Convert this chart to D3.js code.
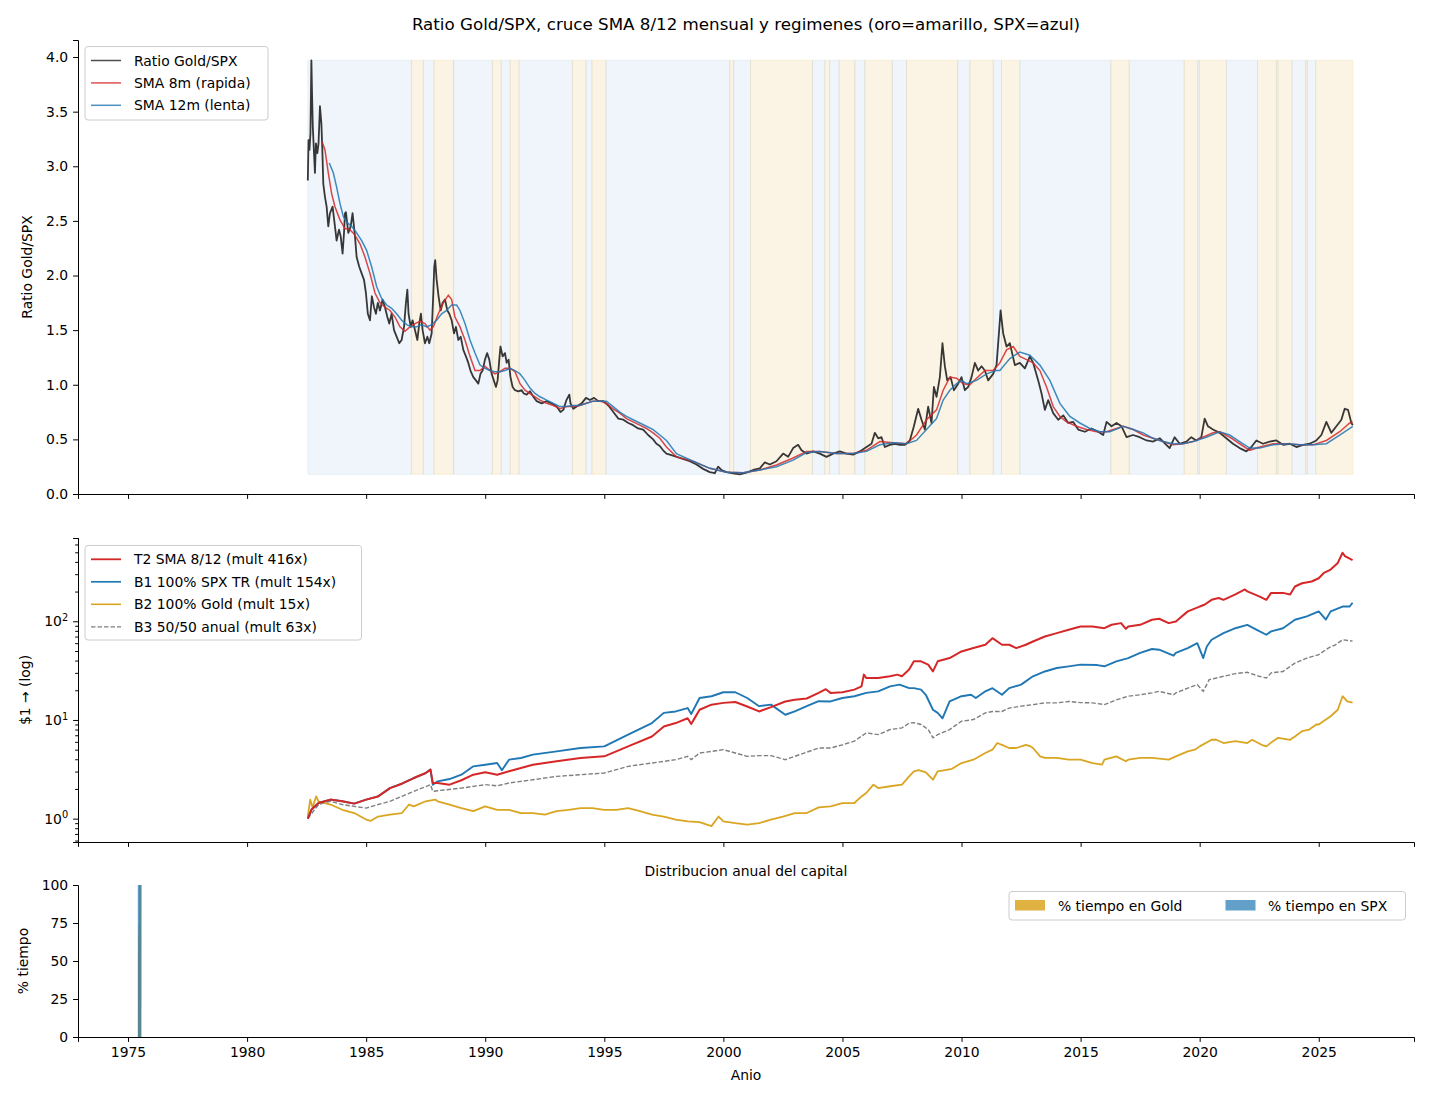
<!DOCTYPE html>
<html>
<head>
<meta charset="utf-8">
<script src="https://d3js.org/d3.v7.min.js"></script>
<style>
body { margin: 0; background: #fff; }
text { font-family: "DejaVu Sans", sans-serif; }
</style>
</head>
<body>
<div id="chart"></div>
<script>
// ---- data ----
// ratio Gold/SPX  [year, ratio]
const ratioGoldSpx = [
  [1982.55,2.87],[1982.58,3.24],[1982.62,3.15],[1982.66,3.30],[1982.70,3.97],[1982.73,3.64],[1982.76,3.36],
  [1982.81,3.12],[1982.85,2.94],[1982.89,3.21],[1982.95,3.12],[1983.00,3.21],[1983.06,3.55],[1983.12,3.39],
  [1983.16,3.15],[1983.20,2.84],[1983.27,2.72],[1983.34,2.63],[1983.41,2.45],[1983.48,2.57],[1983.59,2.63],
  [1983.69,2.45],[1983.76,2.32],[1983.86,2.42],[1983.93,2.36],[1984.01,2.20],[1984.07,2.39],[1984.11,2.57],
  [1984.15,2.58],[1984.25,2.39],[1984.35,2.45],[1984.43,2.57],[1984.53,2.36],[1984.60,2.17],[1984.71,2.08],
  [1984.81,2.02],[1984.91,1.96],[1984.99,1.84],[1985.07,1.65],[1985.16,1.59],[1985.24,1.81],[1985.33,1.71],
  [1985.41,1.65],[1985.49,1.75],[1985.58,1.68],[1985.69,1.78],[1985.79,1.71],[1985.89,1.62],[1985.97,1.56],
  [1986.07,1.65],[1986.17,1.50],[1986.28,1.44],[1986.39,1.38],[1986.49,1.41],[1986.59,1.53],[1986.67,1.75],
  [1986.73,1.87],[1986.78,1.65],[1986.87,1.53],[1986.95,1.59],[1987.05,1.50],[1987.15,1.41],[1987.23,1.56],
  [1987.30,1.65],[1987.37,1.50],[1987.47,1.38],[1987.57,1.44],[1987.65,1.38],[1987.75,1.47],[1987.82,1.84],
  [1987.86,2.08],[1987.90,2.14],[1987.96,1.96],[1988.04,1.81],[1988.13,1.68],[1988.21,1.75],[1988.31,1.78],
  [1988.41,1.68],[1988.49,1.65],[1988.59,1.59],[1988.69,1.47],[1988.77,1.53],[1988.87,1.41],[1988.97,1.44],
  [1989.08,1.32],[1989.19,1.26],[1989.29,1.20],[1989.38,1.13],[1989.50,1.07],[1989.61,1.04],[1989.71,1.01],
  [1989.80,1.10],[1989.89,1.13],[1989.99,1.23],[1990.08,1.29],[1990.17,1.23],[1990.27,1.10],[1990.36,1.04],
  [1990.45,0.98],[1990.52,1.04],[1990.59,1.23],[1990.64,1.35],[1990.73,1.26],[1990.83,1.29],[1990.90,1.20],
  [1990.98,1.23],[1991.06,1.07],[1991.15,0.98],[1991.25,0.95],[1991.39,0.94],[1991.53,0.95],[1991.62,0.92],
  [1991.74,0.91],[1991.88,0.94],[1992.02,0.89],[1992.16,0.85],[1992.37,0.83],[1992.58,0.85],[1992.79,0.83],
  [1993.00,0.80],[1993.16,0.75],[1993.28,0.77],[1993.41,0.86],[1993.53,0.91],[1993.58,0.83],[1993.70,0.78],
  [1993.84,0.80],[1994.05,0.83],[1994.23,0.88],[1994.40,0.86],[1994.57,0.88],[1994.75,0.85],[1994.96,0.85],
  [1995.17,0.81],[1995.38,0.75],[1995.59,0.69],[1995.80,0.68],[1996.01,0.65],[1996.21,0.63],[1996.42,0.60],
  [1996.63,0.59],[1996.84,0.54],[1997.05,0.50],[1997.19,0.46],[1997.33,0.44],[1997.47,0.40],[1997.61,0.37],
  [1997.75,0.36],[1998.17,0.33],[1998.59,0.30],[1998.87,0.27],[1999.15,0.23],[1999.43,0.20],[1999.64,0.19],
  [1999.78,0.25],[1999.92,0.22],[2000.13,0.20],[2000.41,0.19],[2000.69,0.18],[2000.97,0.195],[2001.25,0.22],
  [2001.53,0.235],[2001.74,0.29],[2001.95,0.27],[2002.23,0.30],[2002.51,0.37],[2002.72,0.34],[2002.93,0.42],
  [2003.14,0.45],[2003.28,0.40],[2003.49,0.37],[2003.77,0.39],[2004.05,0.37],[2004.33,0.34],[2004.61,0.37],
  [2004.89,0.39],[2005.17,0.37],[2005.45,0.36],[2005.73,0.39],[2006.01,0.43],[2006.22,0.46],[2006.36,0.56],
  [2006.50,0.51],[2006.64,0.52],[2006.78,0.43],[2006.99,0.45],[2007.20,0.46],[2007.41,0.45],[2007.62,0.45],
  [2007.83,0.49],[2008.00,0.62],[2008.18,0.78],[2008.32,0.68],[2008.46,0.59],[2008.60,0.80],[2008.74,0.65],
  [2008.84,0.98],[2008.95,0.89],[2009.09,1.07],[2009.20,1.38],[2009.30,1.17],[2009.40,1.04],[2009.54,1.07],
  [2009.68,0.95],[2009.86,1.01],[2010.00,1.07],[2010.14,0.95],[2010.28,0.98],[2010.42,1.07],[2010.56,1.20],
  [2010.70,1.13],[2010.84,1.17],[2010.98,1.13],[2011.12,1.04],[2011.33,1.10],[2011.47,1.18],[2011.58,1.50],
  [2011.64,1.68],[2011.75,1.47],[2011.89,1.35],[2012.03,1.38],[2012.24,1.18],[2012.45,1.20],[2012.66,1.15],
  [2012.87,1.26],[2013.01,1.20],[2013.22,1.04],[2013.36,0.92],[2013.50,0.77],[2013.64,0.86],[2013.85,0.74],
  [2014.06,0.68],[2014.27,0.72],[2014.48,0.65],[2014.69,0.66],[2014.90,0.59],[2015.18,0.57],[2015.46,0.60],
  [2015.74,0.57],[2015.95,0.54],[2016.09,0.66],[2016.30,0.62],[2016.51,0.65],[2016.72,0.62],[2016.93,0.52],
  [2017.20,0.54],[2017.48,0.52],[2017.77,0.49],[2018.05,0.48],[2018.33,0.51],[2018.60,0.45],[2018.74,0.42],
  [2018.95,0.52],[2019.16,0.46],[2019.44,0.48],[2019.65,0.52],[2019.86,0.49],[2020.07,0.52],[2020.21,0.69],
  [2020.35,0.62],[2020.56,0.59],[2020.84,0.56],[2021.12,0.51],[2021.40,0.46],[2021.68,0.42],[2021.96,0.39],
  [2022.17,0.43],[2022.38,0.49],[2022.66,0.46],[2022.94,0.48],[2023.22,0.49],[2023.50,0.45],[2023.78,0.46],
  [2024.06,0.43],[2024.34,0.45],[2024.62,0.46],[2024.90,0.49],[2025.11,0.54],[2025.32,0.66],[2025.53,0.56],
  [2025.74,0.62],[2025.95,0.68],[2026.09,0.78],[2026.23,0.77],[2026.37,0.65],[2026.43,0.63]
];

// SMA 8m (rapida)
const sma8 = [
  [1983.16,3.22],[1983.27,3.15],[1983.41,2.94],[1983.55,2.75],[1983.69,2.63],[1983.90,2.51],[1984.11,2.43],
  [1984.32,2.42],[1984.53,2.37],[1984.74,2.29],[1984.95,2.17],[1985.16,2.02],[1985.37,1.84],[1985.58,1.75],
  [1985.79,1.71],[1986.00,1.68],[1986.21,1.62],[1986.42,1.53],[1986.63,1.49],[1986.84,1.53],[1987.05,1.56],
  [1987.26,1.58],[1987.47,1.56],[1987.68,1.50],[1987.82,1.53],[1988.03,1.65],[1988.24,1.75],[1988.45,1.82],
  [1988.59,1.78],[1988.73,1.62],[1988.94,1.53],[1989.15,1.41],[1989.36,1.26],[1989.57,1.13],[1989.78,1.13],
  [1989.99,1.17],[1990.20,1.13],[1990.41,1.10],[1990.62,1.12],[1990.83,1.15],[1991.04,1.15],[1991.25,1.12],
  [1991.46,1.01],[1991.67,0.95],[1991.88,0.92],[1992.09,0.89],[1992.30,0.86],[1992.58,0.83],[1992.86,0.81],
  [1993.14,0.78],[1993.41,0.80],[1993.69,0.80],[1993.97,0.81],[1994.25,0.83],[1994.53,0.85],[1994.81,0.85],
  [1995.09,0.83],[1995.37,0.78],[1995.65,0.74],[1995.93,0.69],[1996.21,0.66],[1996.49,0.63],[1996.77,0.60],
  [1997.05,0.56],[1997.33,0.51],[1997.61,0.43],[1998.03,0.34],[1998.73,0.30],[1999.43,0.235],[2000.13,0.20],
  [2000.83,0.195],[2001.53,0.22],[2002.23,0.265],[2002.93,0.33],[2003.49,0.39],[2004.05,0.39],[2004.75,0.37],
  [2005.45,0.37],[2006.01,0.40],[2006.57,0.48],[2007.13,0.47],[2007.69,0.46],[2008.11,0.54],[2008.53,0.68],
  [2008.95,0.77],[2009.23,0.95],[2009.51,1.07],[2009.79,1.06],[2010.07,1.01],[2010.35,1.00],[2010.63,1.06],
  [2010.98,1.13],[2011.33,1.13],[2011.61,1.20],[2011.89,1.32],[2012.17,1.35],[2012.45,1.26],[2012.73,1.23],
  [2013.01,1.20],[2013.29,1.13],[2013.57,0.98],[2013.85,0.80],[2014.13,0.71],[2014.41,0.66],[2014.83,0.62],
  [2015.25,0.59],[2015.67,0.57],[2016.09,0.57],[2016.51,0.60],[2016.79,0.62],[2017.21,0.59],[2017.63,0.54],
  [2018.04,0.51],[2018.46,0.48],[2018.88,0.45],[2019.30,0.46],[2019.72,0.48],[2020.14,0.52],[2020.56,0.56],
  [2020.84,0.57],[2021.26,0.52],[2021.68,0.46],[2022.10,0.40],[2022.52,0.43],[2023.08,0.46],[2023.64,0.46],
  [2024.20,0.45],[2024.76,0.45],[2025.32,0.49],[2025.88,0.57],[2026.30,0.65],[2026.43,0.66]
];

// SMA 12m (lenta)
const sma12 = [
  [1983.45,3.03],[1983.62,2.94],[1983.76,2.81],[1983.90,2.66],[1984.04,2.54],[1984.18,2.49],[1984.39,2.45],
  [1984.60,2.39],[1984.81,2.32],[1985.02,2.23],[1985.23,2.08],[1985.44,1.90],[1985.65,1.79],[1985.86,1.73],
  [1986.07,1.70],[1986.28,1.65],[1986.49,1.59],[1986.70,1.55],[1986.91,1.53],[1987.12,1.53],[1987.33,1.55],
  [1987.54,1.53],[1987.75,1.55],[1987.96,1.59],[1988.17,1.65],[1988.38,1.68],[1988.59,1.73],[1988.80,1.73],
  [1988.94,1.68],[1989.15,1.56],[1989.36,1.41],[1989.57,1.29],[1989.78,1.18],[1989.99,1.15],[1990.20,1.13],
  [1990.41,1.12],[1990.62,1.12],[1990.83,1.13],[1991.04,1.15],[1991.25,1.13],[1991.46,1.10],[1991.67,1.04],
  [1991.88,0.97],[1992.09,0.92],[1992.30,0.89],[1992.58,0.86],[1992.86,0.83],[1993.14,0.80],[1993.41,0.80],
  [1993.69,0.81],[1993.97,0.81],[1994.25,0.83],[1994.53,0.85],[1994.81,0.85],[1995.09,0.85],[1995.37,0.80],
  [1995.65,0.75],[1995.93,0.71],[1996.21,0.68],[1996.49,0.65],[1996.77,0.62],[1997.05,0.59],[1997.33,0.54],
  [1997.61,0.49],[1998.03,0.37],[1998.73,0.30],[1999.43,0.235],[2000.13,0.20],[2000.83,0.195],[2001.53,0.22],
  [2002.23,0.25],[2002.93,0.31],[2003.49,0.38],[2004.05,0.39],[2004.75,0.37],[2005.45,0.37],[2006.01,0.39],
  [2006.57,0.45],[2007.13,0.47],[2007.69,0.46],[2008.11,0.49],[2008.53,0.59],[2008.95,0.69],[2009.23,0.86],
  [2009.51,0.95],[2009.79,1.01],[2010.00,1.04],[2010.21,1.01],[2010.63,1.04],[2011.05,1.10],[2011.47,1.13],
  [2011.61,1.13],[2012.03,1.24],[2012.45,1.30],[2012.87,1.27],[2013.29,1.18],[2013.71,1.04],[2014.13,0.83],
  [2014.55,0.71],[2014.97,0.65],[2015.39,0.60],[2015.81,0.57],[2016.23,0.57],[2016.79,0.62],[2017.21,0.59],
  [2017.63,0.56],[2018.04,0.51],[2018.46,0.48],[2018.88,0.46],[2019.30,0.46],[2019.72,0.48],[2020.28,0.52],
  [2020.84,0.57],[2021.26,0.54],[2021.68,0.48],[2022.10,0.42],[2022.52,0.42],[2023.08,0.45],[2023.64,0.46],
  [2024.20,0.45],[2024.76,0.45],[2025.32,0.46],[2025.88,0.54],[2026.43,0.62]
];

// regimes: breaks between months where the strategy switches
const regimeBreaks = [
  1982.55,1986.90,1987.40,1987.85,1988.67,1990.30,1990.67,1991.05,1991.42,1993.66,1994.23,1994.48,1995.07,
  2000.27,2000.43,2001.14,2003.74,2004.26,2004.46,2004.86,2005.52,2005.94,2007.09,2007.69,2009.84,2010.35,
  2011.33,2011.68,2012.45,2016.27,2017.04,2019.35,2019.92,2019.99,2021.12,2022.43,2023.22,2023.29,2023.88,
  2024.45,2024.52,2024.87,2026.43
];
const regimeSide = [
  "SPX","Gold","SPX","Gold","SPX","Gold","SPX","Gold","SPX","Gold","SPX","Gold","SPX","Gold","SPX","Gold",
  "SPX","Gold","SPX","Gold","SPX","Gold","SPX","Gold","SPX","Gold","SPX","Gold","SPX","Gold","SPX","Gold",
  "SPX","Gold","SPX","Gold","SPX","Gold","SPX","Gold","SPX","Gold"
];

// equity curves, $1 invested  [year, value]
const t2Sma = [
  [1982.55,1.0],[1982.7,1.23],[1983,1.44],[1983.5,1.56],[1984,1.50],[1984.5,1.42],[1985,1.56],[1985.5,1.68],
  [1986,2.04],[1986.5,2.26],[1987,2.58],[1987.5,2.9],[1987.7,3.14],[1987.8,2.3],[1988,2.3],[1988.5,2.21],
  [1989,2.45],[1989.5,2.79],[1990,2.95],[1990.5,2.79],[1991,3.02],[1991.5,3.26],[1992,3.52],[1993,3.81],
  [1994,4.12],[1995,4.28],[1996,5.4],[1997,6.8],[1997.5,8.6],[1998,9.3],[1998.5,10.4],[1998.65,9.1],
  [1998.8,10.5],[1999,12.7],[1999.5,14.3],[2000,14.9],[2000.5,15.2],[2001,13.7],[2001.5,12.2],[2002,13.5],
  [2002.6,15.4],[2003,16.0],[2003.5,16.5],[2004,18.8],[2004.3,20.5],[2004.5,18.8],[2005,19.1],[2005.5,20.3],
  [2005.8,21.9],[2005.9,28.8],[2006,26.6],[2006.5,26.6],[2007,27.7],[2007.3,28.8],[2007.5,27.7],[2007.8,32.4],
  [2008,39.3],[2008.3,39.3],[2008.6,36.4],[2008.8,31.1],[2009,39.3],[2009.5,42.4],[2010,49.5],[2010.5,53.5],
  [2011,57.8],[2011.3,67.4],[2011.7,57.8],[2012,57.8],[2012.3,53.5],[2012.7,57.8],[2013,62.4],[2013.5,70.1],
  [2014,75.8],[2014.5,82],[2015,88.6],[2015.5,88.6],[2016,85.2],[2016.3,92.2],[2016.7,95.8],[2016.9,83.8],
  [2017,88.6],[2017.5,92],[2018,103.6],[2018.3,106],[2018.7,95.8],[2019,99.7],[2019.5,126],[2020,141],
  [2020.2,147],[2020.5,165],[2020.8,172],[2021,165],[2021.5,187],[2021.9,210],[2022,201],[2022.5,179],
  [2022.8,165],[2023,194],[2023.5,194],[2023.8,187],[2024,225],[2024.3,243],[2024.7,253],[2025,273],
  [2025.2,307],[2025.5,334],[2025.8,390],[2026,495],[2026.1,457],[2026.42,416]
];
const b1Spx = [
  [1982.55,1.0],[1982.7,1.23],[1983,1.44],[1983.5,1.56],[1984,1.50],[1984.5,1.42],[1985,1.56],[1985.5,1.68],
  [1986,2.04],[1986.5,2.26],[1987,2.58],[1987.5,2.9],[1987.7,3.14],[1987.8,2.2],[1988,2.39],[1988.5,2.52],
  [1989,2.79],[1989.5,3.39],[1990,3.52],[1990.5,3.66],[1990.7,3.1],[1991,3.96],[1991.5,4.12],[1992,4.45],
  [1993,4.81],[1994,5.2],[1995,5.4],[1996,7.1],[1997,9.3],[1997.5,11.8],[1998,12.2],[1998.5,13.2],
  [1998.65,11.5],[1999,16.7],[1999.5,17.4],[2000,19.1],[2000.5,19.1],[2001,16.7],[2001.5,13.8],[2002,14.3],
  [2002.6,11.3],[2003,12.2],[2003.5,13.8],[2004,15.5],[2004.5,15.4],[2005,16.7],[2005.5,17.4],[2006,18.8],
  [2006.5,19.5],[2007,21.9],[2007.4,22.8],[2007.8,21],[2008,21],[2008.3,20.3],[2008.5,18],[2008.8,12.7],
  [2009,11.8],[2009.2,10.4],[2009.5,15.4],[2010,17.4],[2010.4,18],[2010.6,16.7],[2011,19.5],[2011.3,21],
  [2011.7,18],[2012,21],[2012.5,22.8],[2013,27.7],[2013.5,31],[2014,33.6],[2014.5,34.9],[2015,36.4],
  [2015.7,36],[2016,35],[2016.5,39.3],[2017,42.4],[2017.5,47.8],[2018,52.4],[2018.3,51.5],[2018.9,44.8],
  [2019,47.8],[2019.5,53.5],[2019.9,60],[2020.15,42.4],[2020.3,55.5],[2020.5,65],[2021,75.8],[2021.5,85],
  [2022,92],[2022.4,82],[2022.8,73],[2023,79],[2023.5,85],[2024,103.6],[2024.5,112],[2025,126],
  [2025.3,104],[2025.5,126],[2026,141],[2026.3,141],[2026.42,154]
];
const b2Gold = [
  [1982.55,1.05],[1982.65,1.56],[1982.75,1.3],[1982.9,1.68],[1983,1.5],[1983.5,1.39],[1984,1.23],[1984.5,1.14],
  [1985,0.98],[1985.2,0.95],[1985.5,1.05],[1986,1.1],[1986.5,1.14],[1986.8,1.39],[1987,1.33],[1987.5,1.5],
  [1987.9,1.56],[1988,1.5],[1988.5,1.39],[1989,1.28],[1989.5,1.19],[1990,1.33],[1990.5,1.23],[1991,1.23],
  [1991.5,1.14],[1992,1.14],[1992.5,1.1],[1993,1.19],[1993.5,1.23],[1994,1.28],[1994.5,1.28],[1995,1.23],
  [1995.5,1.23],[1996,1.28],[1996.5,1.19],[1997,1.1],[1997.5,1.05],[1998,0.98],[1998.5,0.94],[1999,0.92],
  [1999.5,0.84],[1999.8,1.05],[2000,0.94],[2000.5,0.9],[2001,0.87],[2001.5,0.9],[2002,0.98],[2002.5,1.05],
  [2003,1.14],[2003.5,1.14],[2004,1.3],[2004.5,1.33],[2005,1.44],[2005.5,1.44],[2005.8,1.68],[2006,1.82],
  [2006.3,2.21],[2006.5,2.04],[2007,2.13],[2007.5,2.21],[2007.8,2.68],[2008,3.02],[2008.2,3.1],[2008.5,2.95],
  [2008.8,2.48],[2009,3.02],[2009.3,3.1],[2009.6,3.2],[2010,3.66],[2010.5,3.96],[2011,4.62],[2011.3,5.0],
  [2011.5,5.84],[2011.7,5.6],[2012,5.2],[2012.3,5.2],[2012.7,5.6],[2012.9,5.4],[2013,5.2],[2013.3,4.28],
  [2013.5,4.12],[2014,4.12],[2014.5,3.96],[2015,3.96],[2015.5,3.66],[2015.9,3.52],[2016,3.96],[2016.5,4.28],
  [2016.9,3.81],[2017,3.96],[2017.5,4.12],[2018,4.12],[2018.7,3.96],[2019,4.28],[2019.5,4.8],[2019.8,5.0],
  [2020,5.4],[2020.5,6.3],[2020.7,6.3],[2021,5.84],[2021.5,6.1],[2022,5.84],[2022.2,6.3],[2022.6,5.6],
  [2022.8,5.4],[2023,5.9],[2023.3,6.6],[2023.8,6.3],[2024,6.8],[2024.3,7.7],[2024.6,8],[2024.9,9],[2025,9],
  [2025.3,10.1],[2025.5,10.9],[2025.8,12.7],[2026,17.4],[2026.2,15.4],[2026.42,15]
];
const b3Mix = [
  [1982.55,1.0],[1983,1.39],[1983.5,1.5],[1984,1.39],[1984.5,1.33],[1985,1.28],[1985.5,1.39],[1986,1.5],
  [1986.5,1.68],[1987,1.89],[1987.7,2.21],[1987.8,1.89],[1988,1.92],[1989,2.04],[1990,2.21],[1990.5,2.15],
  [1991,2.3],[1992,2.48],[1993,2.68],[1994,2.79],[1995,2.9],[1996,3.39],[1997,3.66],[1998,3.96],[1998.5,4.28],
  [1998.65,3.96],[1999,4.62],[2000,5.0],[2001,4.28],[2001.5,4.35],[2002,4.35],[2002.6,3.96],[2003,4.28],
  [2004,5.2],[2004.5,5.2],[2005,5.6],[2005.5,6.1],[2006,7.4],[2006.5,7.1],[2007,8.0],[2007.5,8.3],[2007.8,9.3],
  [2008,9.4],[2008.3,9.0],[2008.6,8.0],[2008.8,6.6],[2009,7.1],[2009.5,8.0],[2010,9.7],[2010.5,10.1],[2011,11.8],
  [2011.3,12.2],[2011.7,12.2],[2012,13.2],[2012.5,13.8],[2013,14.3],[2013.5,14.9],[2014,14.9],[2014.5,15.4],
  [2015,15],[2015.5,14.9],[2016,14.3],[2016.5,16],[2017,17.4],[2017.5,18],[2018,18.8],[2018.3,19.5],[2018.9,18],
  [2019,18.8],[2019.5,21],[2019.9,22.8],[2020.15,19.5],[2020.4,25.6],[2020.7,26.6],[2021,27.7],[2021.5,29.5],
  [2022,30.4],[2022.5,27.7],[2022.8,26.6],[2023,30],[2023.5,31],[2024,37.7],[2024.5,42.4],[2025,45.9],
  [2025.4,53.5],[2025.7,57.8],[2026,65],[2026.42,63]
];

// annual allocation (% of time)
const allocYears = [1982,1983,1984,1985,1986,1987,1988,1989,1990,1991,1992,1993,1994,1995,1996,1997,1998,1999,
  2000,2001,2002,2003,2004,2005,2006,2007,2008,2009,2010,2011,2012,2013,2014,2015,2016,2017,2018,2019,2020,
  2021,2022,2023,2024,2025,2026];
const goldPct = [0,0,0,0,9,55,67,0,37,37,0,34,74,7,0,0,0,0,16,86,100,74,34,58,100,40,100,84,65,65,
  45,0,0,0,73,4,0,64,100,12,57,81,20,100,100];
const spxPct = [100,100,100,100,91,45,33,100,63,63,100,66,26,93,100,100,100,100,84,14,0,26,66,42,0,60,0,16,35,35,
  55,100,100,100,27,96,100,36,0,88,43,19,80,0,0];

const xTicks = [1975,1980,1985,1990,1995,2000,2005,2010,2015,2020,2025];
const ratioTicks = [0,0.5,1,1.5,2,2.5,3,3.5,4];
const allocTicks = [0,25,50,75,100];

// ---- layout ----
let svgWidth = 1430;
let svgHeight = 1100;
let left = 78, right = 1414;
let fontPx = 13.9;

let svg = d3.select("#chart")
  .append("svg")
  .attr("width", svgWidth)
  .attr("height", svgHeight)
  .style("display", "block");

svg.append("rect").attr("width", svgWidth).attr("height", svgHeight).attr("fill", "#fff");

const xScale = d3.scaleLinear().domain([1972.9, 2029.0]).range([left, right]);
const yRatio = d3.scaleLinear().domain([0, 4.156]).range([494, 40]);
const yEq = d3.scaleLog().domain([0.58, 698]).range([842, 538]);
const yAlloc = d3.scaleLinear().domain([0, 100]).range([1037, 885]);

function styleAxis(g) {
  g.select(".domain").attr("stroke", "#000").attr("stroke-width", 1);
  g.selectAll(".tick line").attr("stroke", "#000").attr("stroke-width", 1);
  g.selectAll(".tick text")
    .attr("font-family", "DejaVu Sans")
    .attr("font-size", fontPx)
    .attr("fill", "#000");
}

function xAxis(yPos, withLabels) {
  let ax = d3.axisBottom(xScale).tickValues(xTicks).tickSizeOuter(0).tickSize(4.9).tickPadding(4.9);
  ax.tickFormat(withLabels ? d3.format("d") : () => "");
  svg.append("g").attr("transform", `translate(0, ${yPos})`).call(ax).call(styleAxis);
}

// ---- panel 1: ratio + regimes ----
const ratioMin = d3.min(ratioGoldSpx, d => d[1]);
const ratioMax = d3.max(ratioGoldSpx, d => d[1]);
const regimes = regimeSide.map((s, i) => ({ side: s, a: regimeBreaks[i], b: regimeBreaks[i + 1] }));

svg.append("g").selectAll("rect")
  .data(regimes)
  .enter()
  .append("rect")
  .attr("x", d => xScale(d.a))
  .attr("width", d => xScale(d.b) - xScale(d.a))
  .attr("y", yRatio(ratioMax))
  .attr("height", yRatio(ratioMin) - yRatio(ratioMax))
  .attr("fill", d => d.side === "Gold" ? "#daa520" : "#1f77b4")
  .attr("fill-opacity", d => d.side === "Gold" ? 0.12 : 0.07)
  .attr("stroke", d => d.side === "Gold" ? "#daa520" : "#1f77b4")
  .attr("stroke-opacity", d => d.side === "Gold" ? 0.12 : 0.07)
  .attr("stroke-width", 1);

const ratioLine = d3.line().x(d => xScale(d[0])).y(d => yRatio(d[1]));

svg.append("path").datum(ratioGoldSpx)
  .attr("d", ratioLine).attr("fill", "none")
  .attr("stroke", "#222").attr("stroke-opacity", 0.9).attr("stroke-width", 1.8)
  .attr("stroke-linejoin", "round");
svg.append("path").datum(sma8)
  .attr("d", ratioLine).attr("fill", "none")
  .attr("stroke", "#d62728").attr("stroke-opacity", 0.85).attr("stroke-width", 1.5);
svg.append("path").datum(sma12)
  .attr("d", ratioLine).attr("fill", "none")
  .attr("stroke", "#1f77b4").attr("stroke-opacity", 0.85).attr("stroke-width", 1.5);

svg.append("g").attr("transform", `translate(${left}, 0)`)
  .call(d3.axisLeft(yRatio).tickValues(ratioTicks).tickFormat(d3.format(".1f"))
    .tickSizeOuter(0).tickSize(4.9).tickPadding(4.9))
  .call(styleAxis);
xAxis(494, false);

// ---- panel 2: equity curves (log) ----
const eqLine = d3.line().x(d => xScale(d[0])).y(d => yEq(d[1]));
svg.append("path").datum(b3Mix).attr("d", eqLine).attr("fill", "none")
  .attr("stroke", "#7f7f7f").attr("stroke-width", 1.4).attr("stroke-dasharray", "4.5,2");
svg.append("path").datum(b2Gold).attr("d", eqLine).attr("fill", "none")
  .attr("stroke", "#daa520").attr("stroke-width", 1.8).attr("stroke-linejoin", "round");
svg.append("path").datum(b1Spx).attr("d", eqLine).attr("fill", "none")
  .attr("stroke", "#1f77b4").attr("stroke-width", 1.9).attr("stroke-linejoin", "round");
svg.append("path").datum(t2Sma).attr("d", eqLine).attr("fill", "none")
  .attr("stroke", "#d62728").attr("stroke-width", 2).attr("stroke-linejoin", "round");

let minorTicks = [];
[0.1, 1, 10, 100].forEach(dec => {
  for (let k = 2; k <= 9; k++) {
    let v = dec * k;
    if (v >= yEq.domain()[0] && v <= yEq.domain()[1]) minorTicks.push(v);
  }
});
svg.append("g").attr("transform", `translate(${left}, 0)`)
  .call(d3.axisLeft(yEq).tickValues(minorTicks).tickFormat(() => "").tickSizeOuter(0).tickSize(2.8))
  .call(styleAxis);
let eqAxis = svg.append("g").attr("transform", `translate(${left}, 0)`)
  .call(d3.axisLeft(yEq).tickValues([1, 10, 100]).tickFormat(() => "10")
    .tickSizeOuter(0).tickSize(4.9).tickPadding(4.9))
  .call(styleAxis);
eqAxis.selectAll(".tick text").each(function(d) {
  d3.select(this).append("tspan")
    .attr("dy", "-0.55em").attr("font-size", 9.8)
    .text(Math.round(Math.log10(d)));
});
xAxis(842, false);

// ---- panel 3: annual allocation ----
// the bars sit where the years were read as day numbers after 1970 (as in the original figure)
const dayEpoch = 1970, daysPerYear = 365.25, barDays = 0.8;
const barPos = yr => dayEpoch + yr / daysPerYear;
const barW = Math.max(0.6, xScale(barDays / daysPerYear) - xScale(0));

svg.append("g").attr("opacity", 0.85).selectAll("rect")
  .data(allocYears)
  .enter()
  .append("rect")
  .attr("x", (d, i) => xScale(barPos(d)) - barW / 2)
  .attr("width", barW)
  .attr("y", (d, i) => yAlloc(goldPct[i]))
  .attr("height", (d, i) => yAlloc(0) - yAlloc(goldPct[i]))
  .attr("fill", "#daa520");
svg.append("g").attr("opacity", 0.7).selectAll("rect")
  .data(allocYears)
  .enter()
  .append("rect")
  .attr("x", (d, i) => xScale(barPos(d)) - barW / 2)
  .attr("width", barW)
  .attr("y", (d, i) => yAlloc(goldPct[i] + spxPct[i]))
  .attr("height", (d, i) => yAlloc(goldPct[i]) - yAlloc(goldPct[i] + spxPct[i]))
  .attr("fill", "#1f77b4");

svg.append("g").attr("transform", `translate(${left}, 0)`)
  .call(d3.axisLeft(yAlloc).tickValues(allocTicks).tickFormat(d3.format("d"))
    .tickSizeOuter(0).tickSize(4.9).tickPadding(4.9))
  .call(styleAxis);
xAxis(1037, true);

// ---- texts ----
function label(txt, xPos, yPos, size, rotate) {
  let t = svg.append("text")
    .attr("x", xPos).attr("y", yPos)
    .attr("text-anchor", "middle")
    .attr("dominant-baseline", "central")
    .attr("font-size", size)
    .attr("fill", "#000")
    .text(txt);
  if (rotate) t.attr("transform", `rotate(-90, ${xPos}, ${yPos})`);
  return t;
}
label("Ratio Gold/SPX, cruce SMA 8/12 mensual y regimenes (oro=amarillo, SPX=azul)", 746, 24, 16.7);
label("Ratio Gold/SPX", 27, 267, fontPx, true);
label("$1 \u2192 (log)", 25, 690, fontPx, true);
label("% tiempo", 23, 961, fontPx, true);
label("Distribucion anual del capital", 746, 871, fontPx);
label("Anio", 746, 1075, fontPx);

// ---- legends ----
function legendBox(x0, y0, w, h) {
  svg.append("rect")
    .attr("x", x0).attr("y", y0).attr("width", w).attr("height", h)
    .attr("rx", 3).attr("ry", 3)
    .attr("fill", "#fff").attr("fill-opacity", 0.8)
    .attr("stroke", "#cccccc").attr("stroke-width", 1);
}
function legendLines(items, x0, y0, dy) {
  let g = svg.append("g");
  items.forEach((it, i) => {
    let yy = y0 + i * dy;
    g.append("line")
      .attr("x1", x0).attr("x2", x0 + 30).attr("y1", yy).attr("y2", yy)
      .attr("stroke", it.color).attr("stroke-width", it.width)
      .attr("stroke-opacity", it.opacity || 1)
      .attr("stroke-dasharray", it.dash || null);
    g.append("text")
      .attr("x", x0 + 43).attr("y", yy)
      .attr("dominant-baseline", "central")
      .attr("font-size", fontPx).attr("fill", "#000")
      .text(it.name);
  });
}

legendBox(85, 46.5, 183, 73.5);
legendLines([
  { name: "Ratio Gold/SPX", color: "#222", width: 1.5, opacity: 0.8 },
  { name: "SMA 8m (rapida)", color: "#d62728", width: 1.5, opacity: 0.8 },
  { name: "SMA 12m (lenta)", color: "#1f77b4", width: 1.5, opacity: 0.8 }
], 91, 60.5, 22.4);

legendBox(85, 545.5, 276.5, 94.5);
legendLines([
  { name: "T2 SMA 8/12 (mult 416x)", color: "#d62728", width: 1.8 },
  { name: "B1 100% SPX TR (mult 154x)", color: "#1f77b4", width: 1.7 },
  { name: "B2 100% Gold (mult 15x)", color: "#daa520", width: 1.6 },
  { name: "B3 50/50 anual (mult 63x)", color: "#7f7f7f", width: 1.3, dash: "4.5,2" }
], 91, 559.3, 22.5);

legendBox(1009, 891.5, 396.5, 28.5);
svg.append("rect").attr("x", 1015).attr("y", 900).attr("width", 30).attr("height", 10.5)
  .attr("fill", "#daa520").attr("fill-opacity", 0.85);
svg.append("text").attr("x", 1058).attr("y", 905.5).attr("dominant-baseline", "central")
  .attr("font-size", fontPx).text("% tiempo en Gold");
svg.append("rect").attr("x", 1225.5).attr("y", 900).attr("width", 30).attr("height", 10.5)
  .attr("fill", "#1f77b4").attr("fill-opacity", 0.7);
svg.append("text").attr("x", 1268).attr("y", 905.5).attr("dominant-baseline", "central")
  .attr("font-size", fontPx).text("% tiempo en SPX");
</script>
</body>
</html>
